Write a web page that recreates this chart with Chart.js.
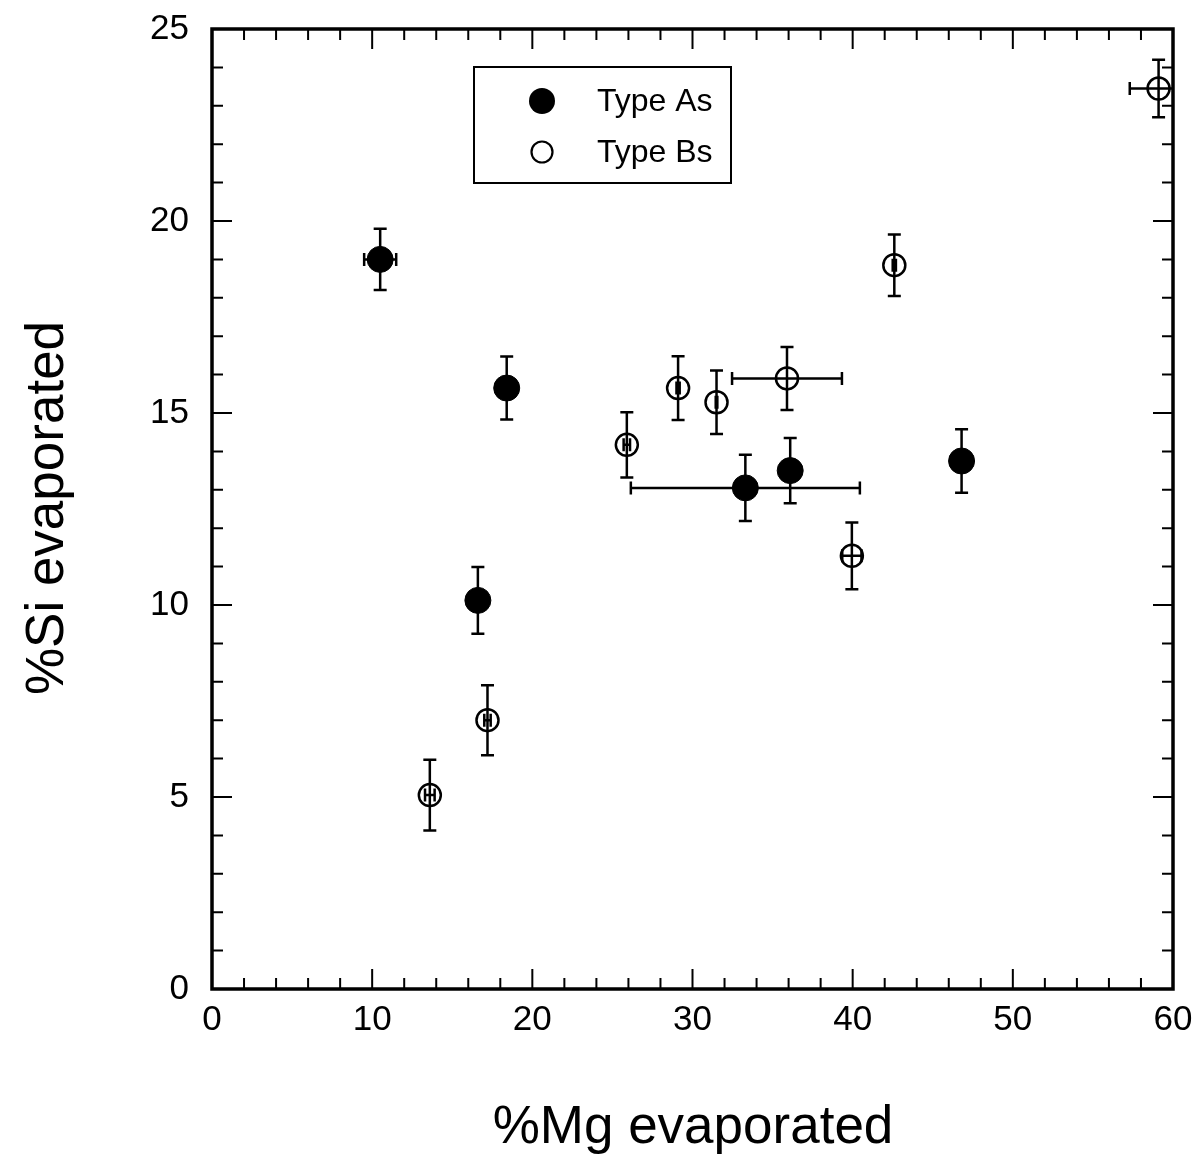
<!DOCTYPE html>
<html>
<head>
<meta charset="utf-8">
<script src="https://cdn.jsdelivr.net/npm/chart.js@4.4.1/dist/chart.umd.min.js"></script>
<style>
html,body{margin:0;padding:0;background:#fff;}
#wrap{width:1197px;height:1161px;}
</style>
</head>
<body>
<div id="wrap"><canvas id="c" width="1197" height="1161"></canvas></div>
<script>
// Type As (filled circles)
const aMg    = [10.5, 18.4, 16.6, 33.3, 36.1, 46.8];
const aSi    = [19.0, 15.65, 10.12, 13.05, 13.5, 13.75];
const aMgErr = [1.0, 0, 0, 7.15, 0, 0];
const aSiErr = [0.8, 0.82, 0.87, 0.86, 0.85, 0.83];
// Type Bs (open circles)
const bMg    = [13.6, 17.2, 25.9, 29.1, 31.5, 35.9, 39.95, 42.6, 59.1];
const bSi    = [5.05, 7.0, 14.17, 15.65, 15.28, 15.9, 11.28, 18.85, 23.45];
const bMgErr = [0.3, 0.2, 0.2, 0.1, 0.05, 3.43, 0.6, 0.1, 1.8];
const bSiErr = [0.92, 0.91, 0.85, 0.83, 0.83, 0.82, 0.87, 0.8, 0.75];
// Axis ticks
const xMajor = [0, 10, 20, 30, 40, 50, 60];
const yMajor = [0, 5, 10, 15, 20, 25];
const xMinorStep = 2;
const yMinorStep = 1;
const legendLabels = ['Type As', 'Type Bs'];
const xTitle = '%Mg evaporated';
const yTitle = '%Si evaporated';

const FONT = '"Liberation Sans", Arial, Helvetica, sans-serif';

function pts(xs, ys, xe, ye) {
  return xs.map((x, i) => ({x: x, y: ys[i], xe: xe[i], ye: ye[i]}));
}

const errorBars = {
  id: 'errorBars',
  beforeDatasetsDraw(chart) {
    const ctx = chart.ctx, xs = chart.scales.x, ys = chart.scales.y, ca = chart.chartArea;
    ctx.save();
    ctx.beginPath();
    ctx.rect(ca.left, ca.top, ca.right - ca.left, ca.bottom - ca.top);
    ctx.clip();
    ctx.strokeStyle = '#000';
    ctx.lineWidth = 2.5;
    const cap = 6.5;
    chart.data.datasets.forEach(ds => {
      ds.data.forEach(p => {
        const px = xs.getPixelForValue(p.x), py = ys.getPixelForValue(p.y);
        if (p.ye > 0) {
          const t = ys.getPixelForValue(p.y + p.ye), b = ys.getPixelForValue(p.y - p.ye);
          ctx.beginPath();
          ctx.moveTo(px, t); ctx.lineTo(px, b);
          ctx.moveTo(px - cap, t); ctx.lineTo(px + cap, t);
          ctx.moveTo(px - cap, b); ctx.lineTo(px + cap, b);
          ctx.stroke();
        }
        if (p.xe > 0) {
          const l = xs.getPixelForValue(p.x - p.xe), r = xs.getPixelForValue(p.x + p.xe);
          ctx.beginPath();
          ctx.moveTo(l, py); ctx.lineTo(r, py);
          ctx.moveTo(l, py - cap); ctx.lineTo(l, py + cap);
          ctx.moveTo(r, py - cap); ctx.lineTo(r, py + cap);
          ctx.stroke();
        }
      });
    });
    ctx.restore();
  }
};

const frame = {
  id: 'frame',
  afterDraw(chart) {
    const ctx = chart.ctx, xs = chart.scales.x, ys = chart.scales.y, ca = chart.chartArea;
    ctx.save();
    ctx.strokeStyle = '#000';
    // ticks
    ctx.lineWidth = 2;
    const majL = 20, minL = 11;
    ctx.beginPath();
    for (let v = xs.min; v <= xs.max + 1e-9; v += xMinorStep) {
      if (v === xs.min || v === xs.max) continue;
      const L = xMajor.includes(v) ? majL : minL;
      const px = xs.getPixelForValue(v);
      ctx.moveTo(px, ca.bottom); ctx.lineTo(px, ca.bottom - L);
      ctx.moveTo(px, ca.top); ctx.lineTo(px, ca.top + L);
    }
    for (let v = ys.min; v <= ys.max + 1e-9; v += yMinorStep) {
      if (v === ys.min || v === ys.max) continue;
      const L = yMajor.includes(v) ? majL : minL;
      const py = ys.getPixelForValue(v);
      ctx.moveTo(ca.left, py); ctx.lineTo(ca.left + L, py);
      ctx.moveTo(ca.right, py); ctx.lineTo(ca.right - L, py);
    }
    ctx.stroke();
    // frame
    ctx.lineWidth = 3.5;
    ctx.strokeRect(ca.left, ca.top, ca.right - ca.left, ca.bottom - ca.top);
    // legend
    ctx.lineWidth = 2;
    ctx.strokeRect(474, 67, 257, 116);
    ctx.fillStyle = '#000';
    ctx.beginPath(); ctx.arc(542, 101, 13, 0, Math.PI * 2); ctx.fill();
    ctx.lineWidth = 2.2;
    ctx.beginPath(); ctx.arc(542, 152, 10.5, 0, Math.PI * 2); ctx.stroke();
    ctx.font = '32px ' + FONT;
    ctx.textBaseline = 'middle';
    ctx.textAlign = 'left';
    ctx.fillText(legendLabels[0], 597, 102);
    ctx.fillText(legendLabels[1], 597, 153);
    // titles
    ctx.font = '53px ' + FONT;
    ctx.textAlign = 'center';
    ctx.fillText(xTitle, 693, 1128);
    ctx.save();
    ctx.translate(48, 508);
    ctx.rotate(-Math.PI / 2);
    ctx.fillText(yTitle, 0, 0);
    ctx.restore();
    ctx.restore();
  }
};

new Chart(document.getElementById('c'), {
  type: 'scatter',
  data: {
    datasets: [
      {
        label: legendLabels[0],
        data: pts(aMg, aSi, aMgErr, aSiErr),
        pointRadius: 13, pointHoverRadius: 13,
        backgroundColor: '#000', borderColor: '#000', borderWidth: 1
      },
      {
        label: legendLabels[1],
        data: pts(bMg, bSi, bMgErr, bSiErr),
        pointRadius: 11, pointHoverRadius: 11,
        backgroundColor: 'rgba(0,0,0,0)', borderColor: '#000', borderWidth: 2.5
      }
    ]
  },
  options: {
    responsive: false,
    animation: false,
    events: [],
    layout: {padding: {left: 0, top: 29, right: 24, bottom: 0}},
    plugins: {legend: {display: false}, tooltip: {enabled: false}},
    scales: {
      x: {
        type: 'linear', min: 0, max: 60,
        ticks: {stepSize: 10, color: '#000', font: {family: FONT, size: 35}, padding: 10, maxRotation: 0},
        grid: {display: false, drawTicks: false},
        border: {display: false},
        afterFit(s) { s.height = 172; s.paddingLeft = 0; s.paddingRight = 0; }
      },
      y: {
        type: 'linear', min: 0, max: 25,
        ticks: {stepSize: 5, color: '#000', font: {family: FONT, size: 35}, padding: 23},
        grid: {display: false, drawTicks: false},
        border: {display: false},
        afterFit(s) { s.width = 212; s.paddingTop = 0; s.paddingBottom = 0; }
      }
    }
  },
  plugins: [errorBars, frame]
});
</script>
</body>
</html>
